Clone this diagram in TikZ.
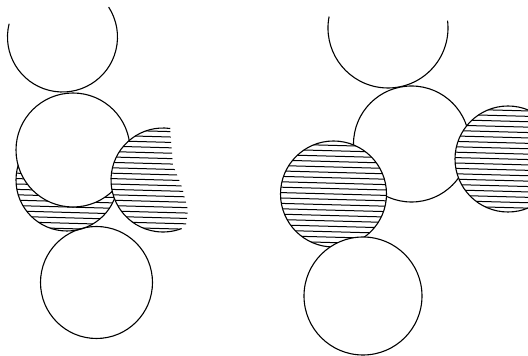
\documentclass[tikz,border=0pt]{standalone}
\begin{document}
\begin{tikzpicture}[x=1pt,y=1pt,
  outline/.style={line width=1.1pt, black},
  hatchline/.style={line width=1.0pt, black}]
\newcommand\hatchfill[3]{%
  \foreach \k in {-12,...,12} {
    \draw[hatchline] ({#1-#3-3},{#2+\k*5.4+1.5}) -- ({#1+#3+3},{#2+\k*5.4-1.5});
  }}
\useasboundingbox (0,0) rectangle (528,356);
\fill[white] (0,0) rectangle (528,356);
% ---------- left panel ----------
% top arc
\draw[outline] ({62.5+55*cos(166)},{319+55*sin(166)}) arc[start angle=166,end angle=393,radius=55];
% hatched circle behind middle circle
\fill[white] (67,176) circle (51);
\begin{scope}
  \clip (67,176) circle (51);
  \hatchfill{67}{176}{51}
\end{scope}
\draw[outline] (67,176) circle (51);
% middle circle
\filldraw[outline, fill=white] (73,206) circle (57);
% right hatched blob
\begin{scope}
  \clip (163,176) circle (52);
  \clip (100,260) -- (170,260) -- (170,228) -- (173,191) -- (182,169) -- (188,146) -- (185,124) -- (185,100) -- (100,100) -- cycle;
  \fill[white] (100,100) rectangle (190,260);
  \hatchfill{163}{176}{52}
\end{scope}
\draw[outline] ({163+52*cos(82)},{176+52*sin(82)}) arc[start angle=82,end angle=291,radius=52];
% bottom circle
\draw[outline] (96.5,73.5) circle (56);
% ---------- right panel ----------
% top arc
\draw[outline] ({388+60*cos(169)},{328+60*sin(169)}) arc[start angle=169,end angle=367,radius=60];
% middle circle
\filldraw[outline, fill=white] (411.5,212) circle (58);
% hatched left circle
\fill[white] (333.5,162) circle (53);
\begin{scope}
  \clip (333.5,162) circle (53);
  \hatchfill{333.5}{162}{53}
\end{scope}
\draw[outline] (333.5,162) circle (53);
% hatched right circle, cut at the edge
\begin{scope}
  \clip (440,100) rectangle (528,260);
  \fill[white] (508,197) circle (53);
  \begin{scope}
    \clip (508,197) circle (53);
    \hatchfill{508}{197}{53}
  \end{scope}
  \draw[outline] (508,197) circle (53);
\end{scope}
% bottom circle
\filldraw[outline, fill=white] (363,60) circle (59);
\end{tikzpicture}
\end{document}
